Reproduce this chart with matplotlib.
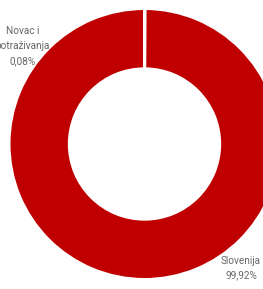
import matplotlib
matplotlib.use("Agg")
import matplotlib.pyplot as plt

categories = ["Novac i\npotraživanja", "Slovenija"]
values = [0.08, 99.92]
labels_pct = ["0,08%", "99,92%"]
colors = ["#C00000", "#C00000"]

W, H, DPI = 263, 289, 100
fig = plt.figure(figsize=(W / DPI, H / DPI), dpi=DPI)
ax = fig.add_axes([0, 0, 1, 1])
ax.axis("off")

lw_pt = 2.0
lw_px = lw_pt * DPI / 72
R_px = 134 + lw_px / 2
cx, cy = 144.5, 144.0

ax.pie(values, colors=colors, startangle=90, counterclock=False, radius=1.0,
       wedgeprops=dict(width=0.444, edgecolor="white", linewidth=lw_pt))

ax.set_xlim(-cx / R_px, (W - cx) / R_px)
ax.set_ylim(-(H - cy) / R_px, cy / R_px)
ax.set_aspect("auto")

def px2d(x, y):
    return (x - cx) / R_px, (cy - y) / R_px

txt_kw = dict(ha="center", va="center", fontsize=7.2, color="#666666",
              family=["Roboto", "DejaVu Sans"], linespacing=1.6)
x, y = px2d(23, 46)
ax.text(x, y, categories[0] + "\n" + labels_pct[0], **txt_kw)
x, y = px2d(241, 268)
ax.text(x, y, categories[1] + "\n" + labels_pct[1], **txt_kw)

fig.savefig("out.png", dpi=DPI)
